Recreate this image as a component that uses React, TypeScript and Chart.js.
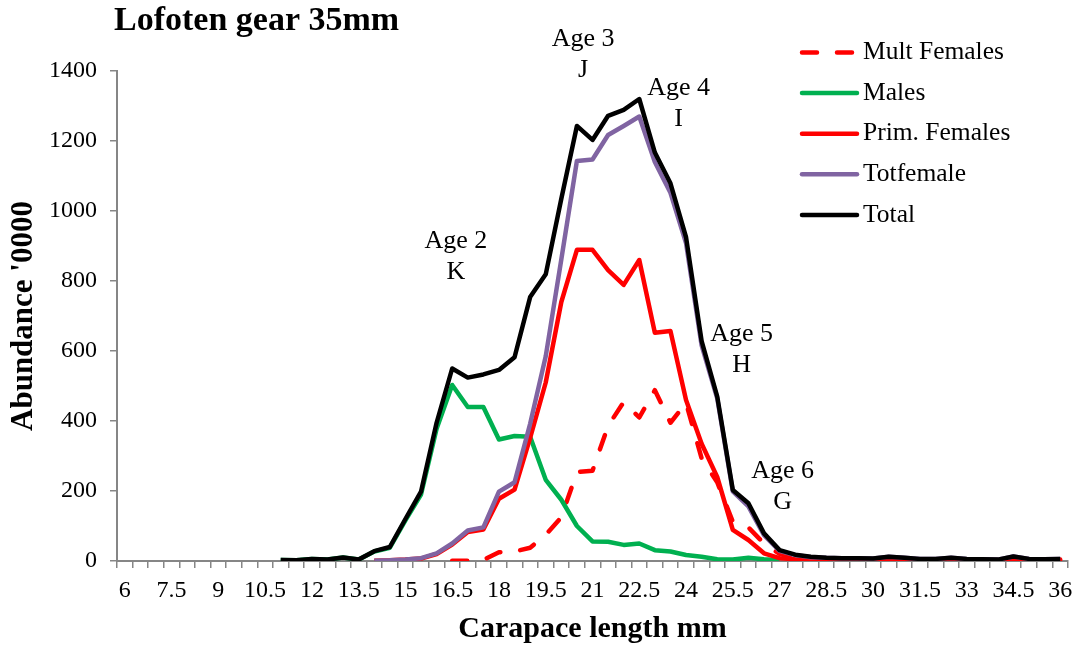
import React, { useEffect, useRef } from 'react';
import { Chart, registerables } from 'chart.js';

Chart.register(...registerables);

const FONT = "'Liberation Serif', 'Times New Roman', serif";
const AXIS = '#868686';

const TITLE = 'Lofoten gear 35mm';
const X_TITLE = 'Carapace length mm';
const Y_TITLE = "Abundance '0000";

const categories: string[] = [
  '6', '6.5', '7', '7.5', '8', '8.5', '9', '9.5', '10', '10.5',
  '11', '11.5', '12', '12.5', '13', '13.5', '14', '14.5', '15', '15.5',
  '16', '16.5', '17', '17.5', '18', '18.5', '19', '19.5', '20', '20.5',
  '21', '21.5', '22', '22.5', '23', '23.5', '24', '24.5', '25', '25.5',
  '26', '26.5', '27', '27.5', '28', '28.5', '29', '29.5', '30', '30.5',
  '31', '31.5', '32', '32.5', '33', '33.5', '34', '34.5', '35', '35.5', '36',
];

const tickLabels: string[] = [
  '6', '7.5', '9', '10.5', '12', '13.5', '15', '16.5', '18', '19.5', '21',
  '22.5', '24', '25.5', '27', '28.5', '30', '31.5', '33', '34.5', '36',
];

const yTicks = { min: 0, max: 1400, step: 200 };

const _ = null;

const multFemales: (number | null)[] = [
  _, _, _, _, _, _, _, _, _, _,
  _, _, _, _, _, _, _, _, _, _,
  _, 1, 1, 3, 25, 27, 38, 75, 125, 254,
  258, 386, 454, 410, 488, 395, 452, 293, 225, 112,
  96, 50, 20, 10, 7, 6, 5, 5, 5, 8,
  6, 4, 4, 5, 4, 3, 3, 8, 4, 3, 4,
];

const males: (number | null)[] = [
  _, _, _, _, _, _, _, _, _, _,
  3, 2, 6, 4, 10, 4, 27, 38, 116, 190,
  378, 503, 440, 440, 347, 357, 355, 232, 175, 100,
  56, 55, 46, 50, 31, 27, 17, 12, 5, 4,
  9, 5, 2, _, _, _, _, _, _, _,
  _, _, _, _, _, _, _, _, _, _, _,
];

const primFemales: (number | null)[] = [
  _, _, _, _, _, _, _, _, _, _,
  _, _, _, _, _, _, 1, 2, 4, 7,
  20, 47, 83, 90, 178, 204, 352, 510, 740, 889,
  889, 831, 789, 860, 652, 657, 460, 335, 240, 89,
  60, 22, 8, 5, 3, 2, 2, 3, 2, 4,
  3, 2, 2, 3, 2, 2, 1, 4, 2, 1, 2,
];

const totFemale: (number | null)[] = [
  _, _, _, _, _, _, _, _, _, _,
  _, _, _, _, _, _, 1, 2, 4, 8,
  22, 50, 87, 96, 198, 225, 392, 585, 862, 1143,
  1147, 1217, 1243, 1270, 1140, 1052, 908, 616, 465, 199,
  156, 74, 29, 17, 11, 9, 8, 8, 7, 12,
  9, 6, 6, 9, 6, 5, 4, 13, 6, 5, 6,
];

const total: (number | null)[] = [
  _, _, _, _, _, _, _, _, _, _,
  3, 2, 6, 4, 10, 4, 28, 40, 120, 198,
  395, 550, 524, 533, 546, 582, 754, 819, 1035, 1243,
  1203, 1272, 1289, 1320, 1167, 1079, 925, 628, 470, 203,
  165, 79, 31, 18, 12, 9, 8, 8, 7, 12,
  9, 6, 6, 9, 6, 5, 4, 13, 6, 5, 6,
];

// text annotations: [lines], x in mm (category value), y = baseline of first line in data units
const annotations = [
  { lines: ['Age 2', 'K'], x: 16.62, y: 894 },
  { lines: ['Age 3', 'J'], x: 20.7, y: 1471 },
  { lines: ['Age 4', 'I'], x: 23.76, y: 1331 },
  { lines: ['Age 5', 'H'], x: 25.78, y: 628 },
  { lines: ['Age 6', 'G'], x: 27.1, y: 237 },
];

const legendOrder: string[] = ['Mult Females', 'Males', 'Prim. Females', 'Totfemale', 'Total'];

const overlayPlugin = {
  id: 'overlay',
  afterDraw(chart: any) {
    const ctx = chart.ctx as CanvasRenderingContext2D;
    const xs = chart.scales.x;
    const ys = chart.scales.y;
    ctx.save();
    ctx.fillStyle = '#000';

    // Title
    ctx.font = `bold 34px ${FONT}`;
    ctx.textAlign = 'left';
    ctx.textBaseline = 'alphabetic';
    ctx.fillText(TITLE, 114, 30);

    // Annotations
    const c0 = parseFloat(categories[0]);
    const step = parseFloat(categories[1]) - c0;
    ctx.font = `26px ${FONT}`;
    ctx.textAlign = 'center';
    annotations.forEach((a) => {
      const px = xs.getPixelForValue((a.x - c0) / step);
      const py = ys.getPixelForValue(a.y);
      a.lines.forEach((t, k) => ctx.fillText(t, px, py + k * 31));
    });

    // Legend
    const lx0 = 802;
    const lx1 = 857;
    const y0 = 52.5;
    const dy = 40.6;
    legendOrder.forEach((label, k) => {
      const ds = chart.data.datasets.find((d: any) => d.label === label);
      if (!ds) return;
      const y = y0 + k * dy;
      ctx.save();
      ctx.strokeStyle = ds.borderColor;
      ctx.lineWidth = ds.borderWidth;
      ctx.lineCap = 'round';
      ctx.setLineDash(ds.borderDash || []);
      ctx.beginPath();
      ctx.moveTo(lx0, y);
      ctx.lineTo(lx1, y);
      ctx.stroke();
      ctx.restore();
      ctx.font = `25.5px ${FONT}`;
      ctx.textAlign = 'left';
      ctx.textBaseline = 'middle';
      ctx.fillStyle = '#000';
      ctx.fillText(label, 863, y);
    });
    ctx.restore();
  },
};

export default function App() {
  const canvasRef = useRef<HTMLCanvasElement | null>(null);

  useEffect(() => {
    if (!canvasRef.current) return;
    const common = {
      pointRadius: 0,
      pointHoverRadius: 0,
      tension: 0,
      fill: false,
      borderJoinStyle: 'round' as const,
      spanGaps: false,
    };
    const chart = new Chart(canvasRef.current, {
      type: 'line',
      data: {
        labels: categories,
        datasets: [
          {
            ...common,
            label: 'Mult Females',
            data: multFemales,
            borderColor: '#FF0000',
            backgroundColor: '#FF0000',
            borderWidth: 4.5,
            borderDash: [15, 20],
            borderCapStyle: 'round',
            order: 4,
          },
          {
            ...common,
            label: 'Males',
            data: males,
            borderColor: '#00B050',
            backgroundColor: '#00B050',
            borderWidth: 4.5,
            order: 3,
          },
          {
            ...common,
            label: 'Prim. Females',
            data: primFemales,
            borderColor: '#FF0000',
            backgroundColor: '#FF0000',
            borderWidth: 4.5,
            order: 2,
          },
          {
            ...common,
            label: 'Totfemale',
            data: totFemale,
            borderColor: '#8064A2',
            backgroundColor: '#8064A2',
            borderWidth: 4.5,
            order: 1,
          },
          {
            ...common,
            label: 'Total',
            data: total,
            borderColor: '#000000',
            backgroundColor: '#000000',
            borderWidth: 4.5,
            order: 0,
          },
        ],
      },
      options: {
        animation: false,
        responsive: false,
        devicePixelRatio: 1,
        layout: { padding: { top: 71, right: 19, bottom: 0, left: 0 } },
        plugins: {
          legend: { display: false },
          tooltip: { enabled: false },
          title: { display: false },
        },
        scales: {
          x: {
            type: 'category',
            offset: true,
            grid: {
              display: true,
              drawOnChartArea: false,
              drawTicks: true,
              tickLength: 7,
              color: AXIS,
              lineWidth: 1.5,
              offset: true,
            },
            border: { display: true, color: AXIS, width: 2 },
            ticks: {
              autoSkip: false,
              maxRotation: 0,
              minRotation: 0,
              padding: 8,
              color: '#000',
              font: { family: FONT, size: 24 },
              callback: (_v: any, i: number) =>
                tickLabels.includes(categories[i]) ? categories[i] : '',
            },
            title: {
              display: true,
              text: X_TITLE,
              color: '#000',
              font: { family: FONT, size: 30, weight: 'bold' },
              padding: { top: 0, bottom: 1 },
            },
            afterFit: (s: any) => {
              s.height = 87;
            },
          },
          y: {
            type: 'linear',
            min: yTicks.min,
            max: yTicks.max,
            grid: {
              display: true,
              drawOnChartArea: false,
              drawTicks: true,
              tickLength: 7,
              color: AXIS,
              lineWidth: 1.5,
            },
            border: { display: true, color: AXIS, width: 2 },
            ticks: {
              stepSize: yTicks.step,
              padding: 13,
              color: '#000',
              font: { family: FONT, size: 24 },
              callback: (v: any) => String(v),
            },
            title: {
              display: true,
              text: Y_TITLE,
              color: '#000',
              font: { family: FONT, size: 31, weight: 'bold' },
              padding: { top: 5, bottom: 0 },
            },
            afterFit: (s: any) => {
              s.width = 117;
            },
          },
        },
      },
      plugins: [overlayPlugin],
    } as any);
    return () => chart.destroy();
  }, []);

  return (
    <div
      style={{
        position: 'fixed',
        left: 0,
        top: 0,
        width: 1087,
        height: 648,
        background: '#fff',
      }}
    >
      <canvas ref={canvasRef} width={1087} height={648} style={{ display: 'block' }} />
    </div>
  );
}
